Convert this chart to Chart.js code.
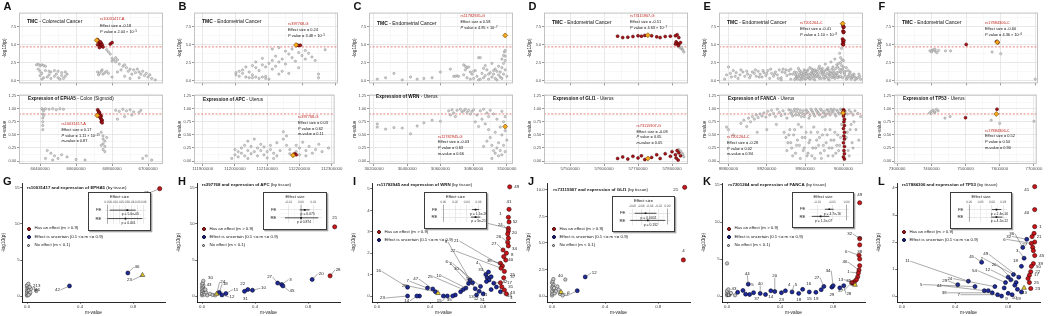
<!DOCTYPE html>
<html><head><meta charset="utf-8"><title>TMC and eQTL colocalization panels</title>
<script src="https://cdn.jsdelivr.net/npm/chart.js@4.4.1/dist/chart.umd.min.js"></script>
<style>
html,body{margin:0;padding:0;background:#fff;}
#root{position:relative;width:1050px;height:316px;overflow:hidden;background:#fff;font-family:"Liberation Sans",Arial,Helvetica,sans-serif;}
#root canvas{position:absolute;}
.t{position:absolute;white-space:nowrap;line-height:1;color:#111;}
.t sup{font-size:72%;line-height:0;vertical-align:0.45em;}
.box{position:absolute;background:#fff;border:1.3px solid #3c3c3c;box-shadow:1.3px 1.3px 0 #a3a3a3;box-sizing:border-box;}
.dot{position:absolute;width:4px;height:4px;border-radius:50%;box-sizing:border-box;border:0.6px solid #222;}
</style></head>
<body><div id="root"></div>
<script>
// ================= DATA =================
// --- x axes of the top row (positions in Mb; tick labels in bp) ---
const aXRange=[66.283,67.083], aXTicks=[66.4,66.6,66.8,67.0], aXMinor=[66.3,66.5,66.7,66.9], aXLabels=['66400000','66600000','66800000','67000000'];
const bXRange=[111.873,112.309], bXTicks=[111.9,112.0,112.1,112.2,112.3], bXMinor=[111.95,112.05,112.15,112.25], bXLabels=['111900000','112000000','112100000','112200000','112300000'];
const cXRange=[30.170,31.037], cXTicks=[30.2,30.4,30.6,30.8,31.0], cXMinor=[30.3,30.5,30.7,30.9], cXLabels=['30200000','30400000','30600000','30800000','31000000'];
const dXRange=[57.4235,57.847], dXTicks=[57.5,57.6,57.7,57.8], dXMinor=[57.45,57.55,57.65,57.75], dXLabels=['57500000','57600000','57700000','57800000'];
const eXRange=[88.701,90.204], eXTicks=[88.8,89.2,89.6,90.0], eXMinor=[89.0,89.4,89.8], eXLabels=['88800000','89200000','89600000','90000000'];
const fXRange=[7.291,7.708], fXTicks=[7.3,7.4,7.5,7.6,7.7], fXMinor=[7.35,7.45,7.55,7.65], fXLabels=['7300000','7400000','7500000','7600000','7700000'];

const topYRange=[-0.39,9.48], topYTicks=[0,2.5,5,7.5], topYMinor=[1.25,3.75,6.25,8.75], topYLabels=['0.0','2.5','5.0','7.5'], topThreshold=4.7;
const lowYRange=[-0.056,1.27], lowYTicks=[0,0.25,0.5,0.75,1,1.25], lowYMinor=[0.125,0.375,0.625,0.875,1.125], lowYLabels=['0.00','0.25','0.50','0.75','1.00','1.25'], lowThreshold=0.9;

// --- Panel A ---
const aTopGrey=[[66.38,2.2],[66.39,2.3],[66.40,2.1],[66.41,2.2],[66.42,2.1],[66.43,2.0],[66.39,1.6],[66.40,1.3],[66.41,1.0],[66.43,1.4],[66.45,1.3],[66.46,1.2],[66.48,1.4],[66.50,1.3],[66.52,1.1],[66.54,1.2],[66.55,0.9],[66.40,0.7],[66.42,0.4],[66.44,0.5],[66.46,0.3],[66.48,0.6],[66.50,0.4],[66.52,0.7],[66.53,0.3],[66.54,0.6],[66.41,0.2],[66.45,0.8],[66.49,0.9],[66.51,0.2],
[66.72,1.2],[66.73,1.0],[66.74,1.3],[66.75,0.9],[66.76,1.1],[66.77,1.3],[66.78,1.0],[66.725,0.8],[66.745,1.5],[66.77,4.3],[66.78,4.0],[66.79,3.7],[66.80,3.1],[66.81,2.9],[66.82,3.2],[66.80,2.7],[66.83,2.9],[66.82,2.6],[66.84,2.3],[66.86,2.0],[66.87,2.2],[66.88,1.8],[66.90,1.6],[66.92,1.5],[66.93,1.1],[66.95,1.2],[66.96,0.9],[66.98,0.7],[67.00,0.5],[67.02,0.3],[67.04,0.1],[66.89,1.3],[66.91,0.9],[66.94,1.6],[66.97,1.3],[66.99,1.0],[66.85,1.5],[66.83,1.2],[66.87,0.6],[66.90,0.3],[66.95,0.4],[67.01,0.8],[66.80,0.5]];
const aTopRed=[[66.72,5.7],[66.725,5.5],[66.73,5.3],[66.73,5.1],[66.735,4.9],[66.74,5.2],[66.74,4.8],[66.745,5.0],[66.75,4.7],[66.72,5.0],[66.73,4.6],[66.735,5.4],[66.79,5.1],[66.80,5.3]];
const aTopLead=[[66.715,5.62]];
const aLowGrey=[[66.41,1.0],[66.415,0.98],[66.42,0.96],[66.43,1.0],[66.45,0.99],[66.47,1.0],[66.49,0.98],[66.51,1.0],[66.53,0.99],[66.415,0.9],[66.415,0.82],[66.415,0.75],[66.415,0.68],[66.415,0.6],[66.42,0.87],[66.44,0.2],[66.46,0.15],[66.48,0.1],[66.50,0.05],[66.52,0.12],[66.55,0.08],[66.43,0.05],[66.47,0.02],
[66.74,0.55],[66.75,0.48],[66.75,0.42],[66.76,0.38],[66.75,0.33],[66.76,0.28],[66.75,0.22],[66.76,0.18],[66.74,0.3],[66.77,0.45],[66.82,0.97],[66.84,0.95],[66.86,0.99],[66.88,0.96],[66.90,0.98],[66.92,0.94],[66.87,0.85],[66.83,0.8],[66.91,0.88],[66.95,0.93],[66.96,0.97],[66.97,0.05],[66.99,0.1],[67.02,0.02],[66.60,0.03],[66.65,0.02]];
const aLowRed=[[66.72,0.98],[66.725,0.95],[66.73,0.93],[66.73,0.9],[66.735,0.88],[66.74,0.86],[66.735,0.83],[66.74,0.8],[66.745,0.78],[66.74,0.75],[66.73,0.85],[66.725,0.91],[66.745,0.73]];
const aLowLead=[[66.718,0.87]];

// --- Panel B ---
const bTopGrey=[[112.00,1.1],[112.00,0.8],[112.01,1.3],[112.01,0.6],[112.02,1.0],[112.02,1.5],[112.03,0.5],[112.03,1.9],[112.04,0.4],[112.04,1.2],[112.05,2.1],[112.05,0.4],[112.06,2.6],[112.06,1.8],[112.07,0.3],[112.07,1.4],[112.08,2.2],[112.08,3.1],[112.09,0.3],[112.09,1.9],[112.10,2.4],[112.10,0.2],[112.11,2.8],[112.11,1.6],[112.12,2.0],[112.12,3.4],[112.13,2.6],[112.13,0.9],[112.14,1.3],[112.14,3.0],[112.15,2.3],[112.15,4.1],[112.16,3.7],[112.16,1.0],[112.17,3.2],[112.17,4.4],[112.18,2.7],[112.19,3.9],[112.19,1.8],[112.20,3.5],[112.21,4.2],[112.21,3.0],[112.22,3.8],[112.23,3.3],[112.24,2.8],[112.25,0.9],[112.25,0.4],[112.27,4.3],[112.13,4.6],[112.11,4.4],[112.09,0.6],[112.05,0.8],[112.06,0.5],[112.08,0.5]];
const bTopRed=[[112.185,4.95],[112.19,4.9],[112.195,4.93]];
const bTopLead=[[112.182,4.96]];
const bLowGrey=[[112.00,0.22],[112.00,0.12],[112.01,0.18],[112.01,0.08],[112.02,0.25],[112.02,0.15],[112.03,0.3],[112.03,0.1],[112.04,0.2],[112.04,0.05],[112.05,0.28],[112.05,0.14],[112.06,0.42],[112.06,0.18],[112.07,0.1],[112.07,0.25],[112.08,0.2],[112.08,0.32],[112.09,0.12],[112.09,0.27],[112.10,0.18],[112.10,0.06],[112.11,0.22],[112.11,0.3],[112.12,0.15],[112.13,0.1],[112.13,0.35],[112.14,0.2],[112.15,0.56],[112.15,0.42],[112.16,0.48],[112.16,0.3],[112.17,0.14],[112.17,0.22],[112.18,0.1],[112.19,0.18],[112.19,0.3],[112.20,0.12],[112.20,0.25],[112.21,0.36],[112.22,0.2],[112.22,0.1],[112.23,0.28],[112.24,0.15],[112.25,0.22],[112.26,0.32],[112.27,0.18],[112.29,0.25],[111.99,0.05],[112.04,0.38],[112.12,0.05]];
const bLowRed=[[112.185,0.14],[112.19,0.12]];
const bLowLead=[[112.18,0.11]];

// --- Panel C ---
const cTopGrey=[[30.22,0.2],[30.27,0.4],[30.32,1.0],[30.37,0.1],[30.42,0.5],[30.46,0.2],[30.50,0.3],[30.55,0.4],[30.60,1.2],[30.66,1.6],[30.68,0.6],[30.69,0.6],[30.70,0.65],[30.71,0.6],
[30.74,2.2],[30.75,2.0],[30.76,1.8],[30.75,1.5],[30.77,1.9],[30.78,1.2],[30.74,0.8],[30.76,0.4],[30.78,0.2],[30.79,0.9],[30.80,0.3],[30.81,1.4],[30.82,0.6],[30.83,3.2],[30.84,3.2],[30.83,0.1],[30.85,1.0],[30.86,0.4],[30.87,2.1],[30.87,0.7],[30.88,1.5],[30.89,0.2],[30.90,1.1],[30.91,2.4],[30.91,0.5],[30.92,0.9],[30.93,1.6],[30.93,0.3],[30.94,1.3],[30.95,0.8],[30.95,2.0],[30.96,0.5],[30.96,1.2],[30.97,3.0],[30.97,1.8],[30.98,3.5],[30.98,2.4],[30.98,0.9],[30.985,4.0],[30.99,4.2],[30.99,3.4],[30.99,2.8],[30.99,1.5],[31.00,0.6],[30.89,0.9],[30.86,1.7],[30.80,1.3],[30.84,0.2],[30.92,1.4],[30.94,0.1],[30.97,0.3]];
const cTopRed=[];
const cTopLead=[[30.99,6.3]];
const cLowGrey=[[30.22,0.71],[30.22,0.65],[30.27,0.61],[30.32,0.64],[30.37,0.63],[30.42,0.52],[30.46,0.67],[30.50,0.73],[30.55,0.78],[30.60,0.76],[30.65,0.96],[30.67,0.98],[30.68,0.92],[30.70,0.97],[30.72,0.99],[30.73,0.94],[30.74,0.96],[30.75,0.99],[30.76,0.93],[30.77,0.97],[30.78,0.9],[30.79,0.95],[30.80,0.98],[30.66,0.88],[30.69,0.85],[30.81,0.75],[30.82,0.88],[30.83,0.66],[30.84,0.96],[30.85,0.8],[30.86,0.99],[30.87,0.71],[30.88,0.92],[30.89,0.6],[30.89,0.85],[30.90,0.97],[30.90,0.45],[30.91,0.3],[30.92,0.2],[30.92,0.9],[30.93,0.15],[30.93,0.55],[30.94,0.25],[30.94,0.8],[30.95,0.1],[30.95,0.35],[30.96,0.65],[30.96,0.2],[30.97,0.95],[30.97,0.5],[30.97,0.12],[30.98,0.75],[30.98,0.3],[30.99,0.85],[30.99,0.58],[31.00,0.4],[30.99,0.18],[30.91,0.05],[30.88,0.38],[30.86,0.28]];
const cLowRed=[];
const cLowLead=[[30.99,0.66]];

// --- Panel D ---
const dTopGrey=[[57.82,4.7],[57.825,4.5],[57.83,4.4],[57.832,4.2],[57.828,4.6],[57.835,4.0]];
const dTopRed=[[57.64,6.2],[57.655,6.0],[57.67,6.05],[57.685,6.15],[57.70,6.25],[57.71,6.2],[57.72,6.3],[57.74,6.25],[57.755,6.1],[57.765,6.0],[57.78,6.15],[57.795,6.2],[57.81,6.25],[57.815,6.4],[57.82,6.0],[57.812,5.4],[57.816,5.2],[57.82,5.0],[57.81,5.1],[57.825,5.3],[57.818,4.9]];
const dTopLead=[[57.729,6.33]];
const dLowGrey=[[57.82,0.22],[57.825,0.19],[57.83,0.15],[57.832,0.12],[57.835,0.08]];
const dLowRed=[[57.64,0.05],[57.655,0.08],[57.67,0.04],[57.685,0.09],[57.70,0.06],[57.71,0.1],[57.72,0.03],[57.74,0.07],[57.755,0.12],[57.765,0.05],[57.78,0.14],[57.795,0.09],[57.80,0.18],[57.81,0.12],[57.815,0.2],[57.82,0.16],[57.812,0.06],[57.825,0.1],[57.818,0.02]];
const dLowLead=[[57.729,0.05]];

// --- Panel E ---
const eTopGrey=[[88.76,0.2],[88.80,1.9],[88.83,0.5],[88.85,1.4],[88.88,1.1],[88.90,0.3],[88.92,0.8],[88.95,1.2],[88.97,0.6],[89.00,0.9],[89.02,0.4],[89.05,1.2],[89.07,1.0],[89.09,0.6],[89.11,1.3],[89.13,0.9],[89.15,0.5],[89.17,1.1],[89.19,0.7],[89.21,1.4],[89.23,0.3],[89.25,1.0],[89.27,0.6],[89.29,1.2],[89.31,0.8],[89.33,1.5],[89.35,0.4],[89.37,1.6],[89.39,1.1],[89.41,0.7],[89.43,1.4],[89.45,1.6],[89.47,0.9],[89.49,1.2],[89.51,0.5],[89.53,1.7],[89.55,1.3],[89.57,0.8],[89.59,1.5],[89.61,1.0],[89.63,0.4],[89.65,1.8],[89.67,1.2],[89.69,0.6],[89.71,1.4],[89.73,0.9],[89.75,2.0],[89.77,1.5],[89.79,0.7],[89.81,2.3],[89.83,1.6],[89.85,0.8],[89.87,2.6],[89.89,1.9],[89.91,3.0],[89.93,2.2],[89.95,1.2],[89.96,3.8],[89.97,2.5],[89.98,4.5],[89.99,1.6],[90.00,2.8],[90.01,0.9],[90.03,1.8],[90.05,0.6],[90.07,1.2],[90.09,0.4],[90.11,0.9],[90.14,0.3],[90.17,0.6],
[89.60,0.2],[89.70,0.1],[89.80,0.3],[89.90,0.5],[89.85,0.1],[89.75,0.3],[89.65,0.2],[89.55,0.1],[89.45,0.2],[89.35,0.1],[89.92,0.9],[89.94,0.4],[89.88,1.1],[89.78,1.2],[89.68,0.9],
[89.50,0.3],[89.52,0.6],[89.54,0.9],[89.56,0.4],[89.58,1.1],[89.60,0.7],[89.62,1.3],[89.64,0.5],[89.66,1.0],[89.68,1.5],[89.70,0.8],[89.72,1.2],[89.74,0.5],[89.76,1.6],[89.78,0.9],[89.80,1.3],[89.82,0.6],[89.84,1.8],[89.86,1.1],[89.88,0.4],[89.90,1.4],[89.92,0.7],[89.94,1.9],[89.96,0.5],[89.98,2.1],[90.02,1.3],[90.04,0.3],[90.06,0.9],[90.08,0.2],[90.10,0.6],[90.12,0.1],[90.15,0.4],[90.18,0.2],[89.97,3.2],[89.985,2.9],[89.975,1.1],
[89.49,0.15],[89.50,0.8],[89.51,1.1],[89.52,0.2],[89.53,0.5],[89.54,1.4],[89.55,0.6],[89.56,1.0],[89.57,0.2],[89.58,0.5],[89.59,0.9],[89.60,1.3],[89.61,0.3],[89.62,0.8],[89.63,1.5],[89.64,0.9],[89.65,0.3],[89.66,0.6],[89.67,1.6],[89.68,0.3],[89.69,1.1],[89.70,1.5],[89.71,0.5],[89.72,0.8],[89.73,1.3],[89.74,1.7],[89.75,0.6],[89.76,1.1],[89.77,0.3],[89.78,1.7],[89.79,1.2],[89.80,0.9],[89.81,0.4],[89.82,1.5],[89.83,1.0],[89.84,0.3],[89.85,1.4],[89.86,0.6],[89.87,1.0],[89.88,1.6],[89.89,0.7],[89.90,1.0],[89.91,0.3],[89.92,1.7],[89.93,1.1],[89.94,0.7],[89.95,2.4],[89.96,1.6],[89.97,0.6],[89.98,1.4],[89.99,0.4],[90.00,1.9],[90.01,1.2],[90.02,0.6],[90.03,0.2],[90.05,1.4],[90.07,0.5],[90.09,0.8],[90.12,0.5],[90.16,0.9],
[88.78,0.8],[88.82,1.0],[88.87,0.6],[88.93,1.5],[88.99,1.3],[89.03,0.7],[89.08,1.5],[89.12,0.5],[89.16,1.4],[89.20,1.0],[89.24,1.6],[89.28,0.9],[89.32,0.3],[89.36,1.2],[89.40,1.5],[89.44,0.9]];
const eTopRed=[[89.99,7.9],[89.995,7.6],[90.00,7.4],[90.005,7.5],[89.995,6.9],[90.0,6.7],[90.005,6.8],[89.99,5.8],[89.995,5.5],[90.0,5.3],[90.005,5.6],[89.99,5.1],[90.0,5.0]];
const eTopLead=[[89.992,7.96]];
const eLowGrey=[[88.93,0.72],[88.96,0.78],[88.99,0.66],[89.01,0.82],[89.03,0.75],[89.05,0.85],[89.07,0.8],[89.09,0.88],[89.11,0.83],[89.13,0.9],[89.15,0.86],[89.17,0.92],[89.19,0.84],[89.21,0.95],[89.23,0.88],[89.25,0.97],[89.27,0.91],[89.29,0.85],[89.31,0.99],[89.33,0.93],[89.35,0.87],[89.37,0.96],[89.39,0.9],[89.41,0.82],[89.43,0.98],[89.45,0.92],[89.47,0.86],[89.49,0.99],[89.51,0.94],[89.53,0.88],[89.55,0.97],[89.57,0.91],[89.59,0.85],[89.61,0.98],[89.63,0.93],[89.65,0.87],[89.67,0.96],[89.69,0.9],[89.71,0.99],[89.73,0.94],[89.75,0.88],[89.77,0.97],[89.79,0.92],[89.81,0.86],[89.83,0.98],[89.85,0.93],[89.87,0.99],[89.89,0.95],[89.91,0.9],[89.93,0.97],[89.95,0.92],[89.97,0.99],[90.02,0.95],[90.04,0.9],[90.06,0.97],[90.08,0.93],[90.10,0.88],[90.12,0.96],[90.15,0.91],[90.18,0.85],
[89.38,0.55],[89.40,0.45],[89.42,0.35],[89.44,0.6],[89.46,0.25],[89.48,0.5],[89.50,0.15],[89.52,0.4],[89.54,0.3],[89.56,0.65],[89.58,0.2],[89.60,0.45],[89.62,0.1],[89.64,0.35],[89.66,0.55],[89.68,0.25],[89.70,0.05],[89.72,0.4],[89.74,0.3],[89.76,0.15],[89.78,0.5],[89.80,0.2],[89.82,0.35],[89.84,0.1],[89.86,0.6],[89.88,0.25],[89.90,0.4],[89.92,0.15],[89.94,0.5],[89.96,0.3],[89.98,0.7],[90.03,0.45],[90.05,0.2],[90.07,0.6],[90.09,0.35],[90.11,0.75],[89.30,0.7],[89.20,0.6],[89.10,0.55],[88.78,0.65],[88.80,0.6],[88.85,0.5],
[89.45,0.97],[89.46,0.9],[89.48,0.95],[89.50,0.88],[89.52,0.99],[89.54,0.92],[89.56,0.85],[89.58,0.96],[89.60,0.9],[89.62,0.95],[89.64,0.82],[89.66,0.99],[89.68,0.93],[89.70,0.86],[89.72,0.96],[89.74,0.91],[89.76,0.99],[89.78,0.84],[89.80,0.95],[89.82,0.9],[89.84,0.97],[89.86,0.88],[89.88,0.94],[89.90,0.99],[89.92,0.86],[89.94,0.95],[89.96,0.9],[89.98,0.97],
[89.41,0.2],[89.43,0.5],[89.45,0.35],[89.47,0.1],[89.49,0.6],[89.51,0.3],[89.53,0.7],[89.55,0.05],[89.57,0.45],[89.59,0.25],[89.61,0.55],[89.63,0.15],[89.65,0.4],[89.67,0.1],[89.69,0.65],[89.71,0.25],[89.73,0.55],[89.75,0.45],[89.77,0.05],[89.79,0.3],[89.81,0.6],[89.83,0.5],[89.85,0.25],[89.87,0.4],[89.89,0.1],[89.91,0.55],[89.93,0.3],[89.95,0.2],[89.97,0.45],[90.04,0.55],[90.06,0.1],[90.08,0.7],[90.10,0.25],[90.13,0.6],[90.16,0.4]];
const eLowRed=[[90.0,0.98],[90.005,0.96],[89.995,0.93],[90.005,0.9],[90.0,0.86],[90.01,0.8],[90.005,0.75],[90.01,0.68],[90.0,0.62],[90.01,0.55],[90.005,0.48],[90.01,0.42],[90.0,0.35],[90.01,0.28],[90.005,0.2],[90.01,0.14],[90.0,0.08],[90.01,0.04]];
const eLowLead=[[89.995,0.92]];

// --- Panel F ---
const fTopGrey=[[7.40,4.2],[7.405,4.3],[7.41,4.1],[7.40,4.0],[7.415,3.9],[7.41,4.35],[7.42,4.2],[7.395,4.15],[7.44,4.15],[7.455,4.15],[7.575,4.0],[7.6,3.75],[7.70,0.2]];
const fTopRed=[[7.5,5.05],[7.588,5.45],[7.592,5.3]];
const fTopLead=[[7.59,5.36]];
const fLowGrey=[[7.40,0.95],[7.405,0.97],[7.41,0.93],[7.40,0.91],[7.415,0.99],[7.41,0.94],[7.42,0.96],[7.395,0.92],[7.44,0.82],[7.455,0.85],[7.575,0.78],[7.6,0.72],[7.70,0.76]];
const fLowRed=[[7.5,0.83],[7.592,0.99]];
const fLowLead=[[7.59,0.9]];

// --- Bottom row: m-value vs -log10(p) per tissue ---
const mRange=[-0.038,1.04], mTicks=[0,0.4,0.8], mLabels=['0.0','0.4','0.8'];

const gYRange=[-0.83,15.69], gYTicks=[0,5,10,15], gYLabels=['0','5','10','15'];
const gRed=[[1.0,14.9]], gRedLbl=['35'];
const gBlue=[[0.76,3.2],[0.32,1.4]], gBlueLbl=['46','42'];
const gGrey=[[0,0.05],[0,0.2],[0.005,0.35],[0,0.5],[0.01,0.62],[0,0.75],[0.005,0.9],[0.01,1.05],[0,1.2],[0.005,1.35],[0,1.5],[0.01,1.7],[0.02,0.3],[0.015,0.8],[0.025,0.5],[0.03,1.0],[0.07,0.7],[0.012,0.15],[0.02,1.25]];
const gGreyLbl=['','','','','7','','','2','','','','','9','','26','13','',''];
const gLead=[[0.87,2.9]], gLeadLbl=['23'];

const hYRange=[-0.83,15.69], hYTicks=[0,5,10,15], hYLabels=['0','5','10','15'];
const hRed=[[1.0,9.6],[0.965,2.8]], hRedLbl=['21','28'];
const hBlue=[[0.83,2.3],[0.57,1.8],[0.6,1.6],[0.61,1.4],[0.38,0.8],[0.345,0.9],[0.32,0.65],[0.18,0.35],[0.15,0.15],[0.13,0.5]];
const hBlueLbl=['20','27','3','45','10','22','31','11','12','18'];
const hGrey=[[0,0.1],[0.005,0.25],[0,0.4],[0.01,0.55],[0,0.7],[0.005,0.85],[0.01,1.0],[0,1.15],[0.005,1.3],[0.01,1.45],[0,1.6],[0.005,1.8],[0.01,2.1],[0.02,0.2],[0.03,0.5],[0.04,0.1],[0.06,0.3],[0.08,0.15],[0.1,0.1],[0.025,0.9]];
const hGreyLbl=['','','','','','','','43','','','','','30','','','','','','',''];
const hLead=[[0.11,0.3]], hLeadLbl=['24'];

const iYRange=[-0.28,5.28], iYTicks=[0,1,2,3,4,5], iYLabels=['0','1','2','3','4','5'];
const iRed=[[1.0,5.1],[0.995,4.05],[0.99,3.68],[0.995,3.46],[0.99,3.16],[0.99,3.04],[0.985,2.9],[0.99,2.7],[0.985,2.51],[0.99,2.34],[0.95,2.15],[0.975,2.0],[0.955,1.84],[0.97,1.68],[0.93,1.53],[0.945,1.4],[0.935,1.3],[0.96,1.15],[0.955,0.85],[0.93,0.62],[0.94,0.43],[0.96,0.28],[0.975,0.1]];
const iRedLbl=['49','41','1','52','44','24','','20','26','34','27','8','40','','38','21','22','25','37','17','31','43','3'];
const iBlue=[[0.82,1.0],[0.84,1.12],[0.83,0.86],[0.845,0.75],[0.825,0.68],[0.86,0.9],[0.88,0.6],[0.9,0.42],[0.93,0.2],[0.86,0.3],[0.8,0.1],[0.77,0.22],[0.74,0.34],[0.72,0.62],[0.69,0.59],[0.7,0.75],[0.67,0.37],[0.63,0.2],[0.59,0.05],[0.57,0.0],[0.53,0.0],[0.5,0.0],[0.44,0.2],[0.42,0.33],[0.38,0.37],[0.32,0.0],[0.3,0.0],[0.23,0.41],[0.23,0.0],[0.78,0.45],[0.65,0.3],[0.75,0.05]];
const iBlueLbl=['33','','','4','','','42','','45','11','12','13','5','30','6','9','10','','35','','15','','28','47','7','','14','16','23','2','25','51'];
const iGrey=[], iGreyLbl=[];
const iLead=[[0.46,0.13]], iLeadLbl=[''];

const jYRange=[-0.566,10.66], jYTicks=[0,2.5,5,7.5,10], jYLabels=['0.0','2.5','5.0','7.5','10.0'];
const jRed=[[1.0,10.25],[0.99,3.4]], jRedLbl=['21','4'];
const jBlue=[[0.25,1.8],[0.19,0.5]], jBlueLbl=['12','14'];
const jGrey=[[0,0.05],[0,0.2],[0.005,0.35],[0,0.5],[0.01,0.65],[0,0.8],[0.005,0.95],[0.01,1.1],[0,1.25],[0.005,1.4],[0.01,1.6],[0.02,0.25],[0.03,0.45],[0.05,0.6],[0.06,0.2],[0.08,0.05],[0.1,1.55],[0.04,0.9],[0.015,0.75]];
const jGreyLbl=['','','','','','','','','','','40','','','','','6','','',''];
const jLead=[[0.068,0.36]], jLeadLbl=[''];

const kYRange=[-0.81,15.27], kYTicks=[0,5,10,15], kYLabels=['0','5','10','15'];
const kRed=[[1.0,12.6],[1.0,7.75],[1.0,6.9],[0.995,5.5],[1.0,5.0],[1.0,4.1],[0.995,3.5],[0.99,3.1],[0.985,2.6],[0.975,2.2],[0.96,1.9],[0.955,1.7],[0.94,1.8]];
const kRedLbl=['49','32','31','6','38','','46','1','35','3','','13','47'];
const kBlue=[[0.08,0.5],[0.12,0.75],[0.14,0.25],[0.16,1.6],[0.17,0.2],[0.2,0.45],[0.25,0.35],[0.29,0.2],[0.33,0.7],[0.36,0.6],[0.41,0.45],[0.44,0.7],[0.49,0.55],[0.54,0.35],[0.57,0.9],[0.62,0.55],[0.67,0.5],[0.71,0.85],[0.73,1.3],[0.79,1.2],[0.8,1.4],[0.85,1.1],[0.88,1.4]];
const kBlueLbl=['12','43','','44','37','5','40','','14','20','23','4','5','18','16','15','19','','27','29','34','','28'];
const kGrey=[[0,4.4],[0,0.1],[0,0.3],[0.005,0.5],[0,0.7],[0.01,0.9],[0.02,0.2],[0.03,0.4],[0.06,0.1],[0.01,0.15]];
const kGreyLbl=['','','','','','','','','',''];
const kLead=[[0.965,1.5]], kLeadLbl=[''];

const lYRange=[-0.22,4.185], lYTicks=[0,1,2,3,4], lYLabels=['0','1','2','3','4'];
const lRed=[[1.0,4.05],[1.0,3.2],[1.0,2.57],[0.995,2.32],[0.98,2.2],[1.0,2.0],[0.975,1.95],[0.985,1.8],[0.99,1.68],[1.0,1.5],[0.99,1.2],[0.975,1.1],[0.97,0.9],[0.96,0.77],[0.95,0.65],[0.96,0.5],[0.97,0.28]];
const lRedLbl=['41','40','1','','21','','6','27','','45','39','50','22','17','','25','23'];
const lBlue=[[0.42,0.42],[0.5,0.55],[0.6,1.25],[0.55,0.35],[0.62,0.2],[0.68,0.12],[0.72,0.05],[0.75,0.0],[0.77,0.3],[0.78,0.5],[0.8,0.7],[0.82,0.6],[0.84,0.8],[0.86,0.5],[0.85,0.4],[0.88,0.7],[0.9,1.1],[0.92,1.4],[0.87,0.25],[0.8,0.1],[0.83,0.05],[0.9,0.15],[0.94,2.1],[0.91,1.8],[0.7,0.35],[0.65,0.2]];
const lBlueLbl=['29','11','45','5','44','38','7','9','','54','','12','2','20','','49','18','3','13','10','19','','32','36','24',''];
const lGrey=[], lGreyLbl=[];
const lLead=[[0.92,0.3]], lLeadLbl=[''];

// --- Inset forest plots: [estimate, lower, upper] ---
const gInsetTicks=[0,0.01,0.02,0.03,0.04,0.05,0.06], gInsetLabels=['0.00','0.01','0.02','0.03','0.04','0.05','0.06'], gInsetRange=[-0.004,0.064];
const gFE=[0.033,0.004,0.047], gRE=[0.030,0.0,0.058], gFEp='p = 5.0e-05', gREp='p = 0.041';
const hInsetTicks=[-0.01,0,0.01], hInsetLabels=['-0.01','0.00','0.01'], hInsetRange=[-0.017,0.017];
const hFE=[0.003,-0.001,0.007], hRE=[0.0,-0.013,0.014], hFEp='p = 0.075', hREp='p = 0.874';
const iInsetTicks=[0,0.02,0.04,0.06], iInsetLabels=['0.00','0.02','0.04','0.06'], iInsetRange=[-0.004,0.066];
const iFE=[0.055,0.049,0.061], iRE=[0.055,0.047,0.063], iFEp='p = 1.1e-26', iREp='p = 5e-21';
const jInsetTicks=[-0.08,-0.06,-0.04,-0.02,0], jInsetLabels=['-0.08','-0.06','-0.04','-0.02','0.00'], jInsetRange=[-0.088,0.006];
const jFE=[-0.05,-0.075,-0.025], jRE=[-0.045,-0.085,-0.005], jFEp='p = 0.0001', jREp='p = 0.132';
const kInsetTicks=[-0.1,-0.05,0], kInsetLabels=['-0.10','-0.05','0.00'], kInsetRange=[-0.13,0.008];
const kFE=[-0.06,-0.075,-0.045], kRE=[-0.09,-0.12,-0.06], kFEp='p = 4.7e-16', kREp='p = 1.2e-07';
const lInsetTicks=[0,0.03,0.06,0.09], lInsetLabels=['0.00','0.03','0.06','0.09'], lInsetRange=[-0.006,0.1];
const lFE=[0.072,0.06,0.085], lRE=[0.072,0.058,0.088], lFEp='p = 2.4e-16', lREp='p = 4.2e-12';

// ================= RENDERING =================
const FONT='"Liberation Sans", Arial, Helvetica, sans-serif';
Chart.defaults.font.family=FONT;
Chart.defaults.font.size=4.5;
const root=document.getElementById('root');
const xy=a=>a.map(p=>({x:p[0],y:p[1]}));
const isIn=(arr,v)=>arr.some(t=>Math.abs(t-v)<1e-7);

function addCanvas(x,y,w,h){const c=document.createElement('canvas');c.width=w;c.height=h;c.style.left=x+'px';c.style.top=y+'px';c.style.width=w+'px';c.style.height=h+'px';root.appendChild(c);return c;}
function txt(x,yc,html,size,extra){const d=document.createElement('div');d.className='t';d.style.left=x+'px';d.style.top=(yc-size/2)+'px';d.style.fontSize=size+'px';if(extra)d.style.cssText+=extra;d.innerHTML=html;root.appendChild(d);return d;}

const framePlugin={id:'frame',afterDraw(chart,args,opts){if(!opts||!opts.color)return;const a=chart.chartArea,ctx=chart.ctx;ctx.save();ctx.strokeStyle=opts.color;ctx.lineWidth=opts.width||1;ctx.strokeRect(a.left+0.5,a.top+0.5,a.right-a.left-1,a.bottom-a.top-1);ctx.restore();}};
const labelPlugin={id:'ptlabels',afterDatasetsDraw(chart){const ctx=chart.ctx;chart.data.datasets.forEach((ds,i)=>{if(!ds.ptLabels)return;const meta=chart.getDatasetMeta(i);meta.data.forEach((el,j)=>{const t=ds.ptLabels[j];if(!t)return;const off=(ds.ptOffsets&&ds.ptOffsets[j])||[4,-3];const lx=el.x+off[0],ly=el.y+off[1];ctx.save();if(Math.hypot(off[0],off[1])>7){ctx.strokeStyle='#444';ctx.lineWidth=0.45;ctx.beginPath();ctx.moveTo(el.x,el.y);ctx.lineTo(lx,ly);ctx.stroke();}ctx.font='4.4px '+FONT;ctx.fillStyle='#1a1a1a';ctx.textBaseline='middle';const al=off[0]<-1?'right':(off[0]>1?'left':'center');ctx.textAlign=al;ctx.fillText(t,lx+(al==='right'?-0.6:(al==='left'?0.6:0)),ly+(al==='center'?(off[1]<0?-1.8:1.8):0));ctx.restore();});});}};
const notePlugin={id:'notes',afterDatasetsDraw(chart){const ctx=chart.ctx;chart.data.datasets.forEach((ds,i)=>{if(!ds.notes)return;const meta=chart.getDatasetMeta(i);meta.data.forEach((el,j)=>{const t=ds.notes[j];if(!t)return;ctx.save();ctx.font='3.4px '+FONT;ctx.fillStyle='#222';ctx.textAlign='center';ctx.textBaseline='middle';ctx.fillText(t,el.x+3,el.y+4.3);ctx.restore();});});}};

function lightAxis(o){
  const all=[...o.major,...(o.minor||[])].sort((a,b)=>a-b);
  return {type:'linear',min:o.range[0],max:o.range[1],position:o.position,reverse:!!o.reverse,
    afterBuildTicks:s=>{s.ticks=all.map(v=>({value:v}));},
    afterFit:s=>{if(o.w!=null)s.width=o.w;if(o.h!=null)s.height=o.h;},
    ticks:{display:o.show!==false,autoSkip:false,maxRotation:0,minRotation:0,padding:o.pad??0.8,color:o.tickColor||'#4d4d4d',font:{size:o.fs||4.2},
      callback:v=>{const i=o.major.findIndex(t=>Math.abs(t-v)<1e-7);return i>=0?o.labels[i]:'';}},
    grid:{display:true,drawOnChartArea:true,drawTicks:o.ticksOn!==false,tickLength:o.tl??2,
      color:c=>c.tick&&isIn(o.major,c.tick.value)?'#e2e2e2':'#f1f1f1',
      lineWidth:c=>c.tick&&isIn(o.major,c.tick.value)?0.8:0.5,
      tickColor:c=>c.tick&&isIn(o.major,c.tick.value)?'#6a6a6a':'rgba(0,0,0,0)',tickWidth:0.7},
    border:{display:false},
    title:o.title?{display:true,text:o.title,color:'#222',font:{size:4.8},padding:{top:1.5,bottom:0.5}}:{display:false}};
}
function classicAxis(o){
  return {type:'linear',min:o.range[0],max:o.range[1],
    afterBuildTicks:s=>{s.ticks=o.major.map(v=>({value:v}));},
    afterFit:s=>{if(o.w!=null)s.width=o.w;if(o.h!=null)s.height=o.h;},
    ticks:{autoSkip:false,maxRotation:0,minRotation:0,padding:0.6,color:'#3a3a3a',font:{size:4.3},
      callback:v=>{const i=o.major.findIndex(t=>Math.abs(t-v)<1e-7);return i>=0?o.labels[i]:'';}},
    grid:{display:true,drawOnChartArea:false,drawTicks:true,tickLength:1.8,tickColor:'#333',tickWidth:0.7},
    border:{display:true,color:'#111',width:0.9},
    title:{display:true,text:o.title,color:'#222',font:{size:4.8},padding:{top:0.5,bottom:0.5}}};
}

function manhattan(left,top,h,padTop,xh,showX,xa,ya,grey,red,lead,thr){
  const W=168;
  const c=addCanvas(left,top,W,h);
  new Chart(c,{type:'scatter',
    data:{datasets:[
      {data:xy(lead),pointStyle:'rectRot',pointRadius:2.5,backgroundColor:'#f7a81b',borderColor:'#6b4300',borderWidth:0.6,order:1},
      {data:xy(red),pointRadius:1.5,backgroundColor:'#a8151b',borderColor:'#4a0000',borderWidth:0.5,order:2},
      {data:xy(grey),pointRadius:1.15,backgroundColor:'#d4d4d4',borderColor:'#8a8a8a',borderWidth:0.5,order:3},
      {data:[{x:xa.range[0],y:thr},{x:xa.range[1],y:thr}],showLine:true,pointRadius:0,borderColor:'#e0625c',borderWidth:0.8,borderDash:[2,1.6],order:4}]},
    options:{responsive:false,animation:false,devicePixelRatio:1,events:[],
      layout:{padding:{left:0,right:W-163,top:padTop,bottom:0}},
      plugins:{legend:{display:false},tooltip:{enabled:false},frame:{color:'#c2c2c2',width:1}},
      scales:{x:lightAxis({...xa,h:xh,show:showX,fs:4.3,pad:0.6}),y:lightAxis({...ya,w:19,fs:4.0})}},
    plugins:[framePlugin]});
}

function tissuePanel(left,ya,red,redLbl,redOff,blue,blueLbl,blueOff,grey,greyLbl,lead,leadLbl,leadOff){
  const W=170,H=138;
  const c=addCanvas(left,178,W,H);
  new Chart(c,{type:'scatter',
    data:{datasets:[
      {data:xy(lead),ptLabels:leadLbl,ptOffsets:leadOff,pointStyle:'triangle',pointRadius:2.7,backgroundColor:'#f2d31f',borderColor:'#333',borderWidth:0.6,order:1},
      {data:xy(red),ptLabels:redLbl,ptOffsets:redOff,pointRadius:2.1,backgroundColor:'#c8161a',borderColor:'#3a0000',borderWidth:0.6,order:2},
      {data:xy(blue),ptLabels:blueLbl,ptOffsets:blueOff,pointRadius:2,backgroundColor:'#1c2a9e',borderColor:'#000020',borderWidth:0.6,order:3},
      {data:xy(grey),ptLabels:greyLbl,pointRadius:1.7,backgroundColor:'#cccccc',borderColor:'#333',borderWidth:0.5,order:4}]},
    options:{responsive:false,animation:false,devicePixelRatio:1,events:[],
      layout:{padding:{left:0,right:W-165,top:5,bottom:0}},
      plugins:{legend:{display:false},tooltip:{enabled:false}},
      scales:{x:classicAxis({range:mRange,major:mTicks,labels:mLabels,h:14,title:'m-value'}),
              y:classicAxis({...ya,w:22,title:'-log10(p)'})}},
    plugins:[labelPlugin]});
}

function inset(bx,by,bw,bh,range,ticks,labels,fe,re,feP,reP){
  const box=document.createElement('div');box.className='box';box.style.left=bx+'px';box.style.top=by+'px';box.style.width=bw+'px';box.style.height=bh+'px';root.appendChild(box);
  const cw=bw-2,ch=bh-2;
  const c=addCanvas(bx+1,by+1,cw,ch);c.style.zIndex=2;
  txt(bx,by+5,'Effect size',4.1,`width:${bw}px;text-align:center;z-index:3;`);
  const minor=[];for(let i=0;i<ticks.length-1;i++)minor.push((ticks[i]+ticks[i+1])/2);
  new Chart(c,{type:'scatter',
    data:{datasets:[
      {data:[{x:fe[0],y:1},{x:re[0],y:2}],notes:[feP,reP],pointStyle:'rect',pointRadius:1.2,backgroundColor:'#111',borderColor:'#111',borderWidth:0,order:1},
      {data:[{x:fe[1],y:1},{x:fe[2],y:1}],showLine:true,pointRadius:0,borderColor:'#222',borderWidth:0.8,order:2},
      {data:[{x:re[1],y:2},{x:re[2],y:2}],showLine:true,pointRadius:0,borderColor:'#222',borderWidth:0.8,order:3},
      {data:[{x:0,y:0.33},{x:0,y:2.63}],showLine:true,pointRadius:0,borderColor:'#222',borderWidth:0.6,borderDash:[1,1],order:4}]},
    options:{responsive:false,animation:false,devicePixelRatio:1,events:[],
      layout:{padding:{left:0,right:3,top:7.5,bottom:1.5}},
      plugins:{legend:{display:false},tooltip:{enabled:false}},
      scales:{x:lightAxis({range,major:ticks,minor,labels,position:'top',h:4,fs:3.0,pad:0.2,ticksOn:false,tl:0}),
              y:lightAxis({range:[0.33,2.63],major:[1,2],minor:[1.5],labels:['FE','RE'],reverse:true,w:16,fs:4.4,pad:3.5,ticksOn:false,tl:0,tickColor:'#222'})}},
    plugins:[notePlugin]});
}

function legend(left,ycs,three){
  const items=[['#c8161a','#3a0000','Has an effect (m &gt; 0.9)'],['#1c2a9e','#000020','Effect is uncertain (0.1 &lt;= m &lt;= 0.9)'],['#cccccc','#333','No effect (m &lt; 0.1)']];
  const n=three?3:2;
  for(let i=0;i<n;i++){
    const d=document.createElement('div');d.className='dot';d.style.left=(left+26.5)+'px';d.style.top=(ycs[i]-2)+'px';d.style.background=items[i][0];d.style.borderColor=items[i][1];
    if(i===2){d.style.width='3.4px';d.style.height='3.4px';d.style.left=(left+26.8)+'px';d.style.top=(ycs[i]-1.7)+'px';}
    root.appendChild(d);
    txt(left+34.5,ycs[i],items[i][2],4.3);
  }
}

// ---- panel texts/layout table (built from the arrays above) ----
const sup=(m,e)=>`${m} × 10<sup>${e}</sup>`;
const columns=[
 {L:'A',g:'G',cancer:'Colorectal Cancer',gene:'EPHA5',tissue:'Colon (Sigmoid)',snp:'rs10031417-A',snpB:'rs10031417',
  topES:'-0.18',topP:sup('2.04','−5'),lowES:'0.17',lowP:sup('1.11','−15'),m:'0.87',
  xa:{range:aXRange,major:aXTicks,minor:aXMinor,labels:aXLabels},
  top:[aTopGrey,aTopRed,aTopLead],low:[aLowGrey,aLowRed,aLowLead],
  tt:21.7,ts:[100,19.3],lt:99,ls:[61.5,124.3]},
 {L:'B',g:'H',cancer:'Endometrial Cancer',gene:'APC',tissue:'Uterus',snp:'rs397768-G',snpB:'rs397768',
  topES:'0.24',topP:sup('3.48','−5'),lowES:'0.03',lowP:'0.62',m:'0.11',
  xa:{range:bXRange,major:bXTicks,minor:bXMinor,labels:bXLabels},
  top:[bTopGrey,bTopRed,bTopLead],low:[bLowGrey,bLowRed,bLowLead],
  tt:21.7,ts:[113,24],lt:100,ls:[123,117.3]},
 {L:'C',g:'I',cancer:'Endometrial Cancer',gene:'WRN',tissue:'Uterus',snp:'rs11782945-G',snpB:'rs11782945',
  topES:'0.58',topP:sup('4.95','−7'),lowES:'-0.03',lowP:'0.63',m:'0.66',
  xa:{range:cXRange,major:cXTicks,minor:cXMinor,labels:cXLabels},
  top:[cTopGrey,cTopRed,cTopLead],low:[cLowGrey,cLowRed,cLowLead],
  tt:23.3,ts:[110.5,15.7],lt:97.5,ls:[88,136.7]},
 {L:'D',g:'J',cancer:'Endometrial Cancer',gene:'GLI1',tissue:'Uterus',snp:'rs73115907-G',snpB:'rs73115907',
  topES:'-0.51',topP:sup('4.63','−7'),lowES:'-0.08',lowP:'0.65',m:'0.05',
  xa:{range:dXRange,major:dXTicks,minor:dXMinor,labels:dXLabels},
  top:[dTopGrey,dTopRed,dTopLead],low:[dLowGrey,dLowRed,dLowLead],
  tt:22.7,ts:[105,15.7],lt:99,ls:[111.5,126]},
 {L:'E',g:'K',cancer:'Endometrial Cancer',gene:'FANCA',tissue:'Uterus',snp:'rs7201264-C',snpB:'rs7201264',
  topES:'-0.41',topP:sup('1.10','−8'),lowES:'-0.28',lowP:'0.02',m:'0.94',
  xa:{range:eXRange,major:eXTicks,minor:eXMinor,labels:eXLabels},
  top:[eTopGrey,eTopRed,eTopLead],low:[eLowGrey,eLowRed,eLowLead],
  tt:22.7,ts:[100,22.7],lt:99,ls:[27,137.3]},
 {L:'F',g:'L',cancer:'Endometrial Cancer',gene:'TP53',tissue:'Uterus',snp:'rs17884306-C',snpB:'rs17884306',
  topES:'-0.60',topP:sup('4.36','−6'),lowES:'0.52',lowP:'0.54',m:'0.90',
  xa:{range:fXRange,major:fXTicks,minor:fXMinor,labels:fXLabels},
  top:[fTopGrey,fTopRed,fTopLead],low:[fLowGrey,fLowRed,fLowLead],
  tt:22.7,ts:[110,22.7],lt:99,ls:[110,130.7]}
];

const topYA={range:topYRange,major:topYTicks,minor:topYMinor,labels:topYLabels,title:'-log10(p)'};
const lowYA={range:lowYRange,major:lowYTicks,minor:lowYMinor,labels:lowYLabels,title:'m-value'};

columns.forEach((col,k)=>{
  const L=k*175;
  manhattan(L,8,80,2,3,false,col.xa,topYA,col.top[0],col.top[1],col.top[2],topThreshold);
  manhattan(L,90,83,3,9,true,col.xa,lowYA,col.low[0],col.low[1],col.low[2],lowThreshold);
  txt(L+3.5,6.5,'<b>'+col.L+'</b>',11);
  txt(L+27,col.tt,'<b>TMC</b> - '+col.cancer,5);
  txt(col.ts[0]+L,col.ts[1],col.snp,3.9,'color:#c0281e;');
  txt(col.ts[0]+L,col.ts[1]+6.2,'Effect size = '+col.topES,3.9);
  txt(col.ts[0]+L,col.ts[1]+12.4,'<i>P</i> value = '+col.topP,3.9);
  txt(L+(k===2?26:28),col.lt,'<b>Expression of '+col.gene+'</b> - '+col.tissue,4.7);
  txt(col.ls[0]+L,col.ls[1],col.snp,3.9,'color:#c0281e;');
  txt(col.ls[0]+L,col.ls[1]+5.7,'Effect size = '+col.lowES,3.9);
  txt(col.ls[0]+L,col.ls[1]+11.4,'<i>P</i> value = '+col.lowP,3.9);
  txt(col.ls[0]+L,col.ls[1]+17.1,'<i>m</i>-value = '+col.m,3.9);
  txt(L+3,181.5,'<b>'+col.g+'</b>',11);
});

// ---- bottom row ----
tissuePanel(0,{range:gYRange,major:gYTicks,labels:gYLabels},gRed,gRedLbl,[[-10,4]],gBlue,gBlueLbl,[[6,-6],[-9,4]],gGrey,gGreyLbl,gLead,gLeadLbl,[[-10,5]]);
tissuePanel(175,{range:hYRange,major:hYTicks,labels:hYLabels},hRed,hRedLbl,[[0,-7],[5,-6]],hBlue,hBlueLbl,[[6,-6],[-5,-6],[7,-5],[6,5],[8,-2],[-2,-6],[1,6],[7,-4],[7,2],[3,-9]],hGrey,hGreyLbl,hLead,hLeadLbl,[[3,-12]]);
tissuePanel(350,{range:iYRange,major:iYTicks,labels:iYLabels},iRed,iRedLbl,[[4,0],[0,-6],[-6,-3],[3,0],[-33,-8],[-5,-6],[0,0],[3,-5],[-6,-5],[3,3],[-6,-6],[4,2],[4,3],[0,0],[-8,-2],[-43,-25],[-45,-17],[5,3],[6,-1],[6,0],[6,0],[5,3],[3,4]],
  iBlue,iBlueLbl,[[-2,-5],[0,0],[0,0],[-10,-17],[0,0],[0,0],[8,-1],[0,0],[6,4],[-3,5],[-4,5],[-5,5],[-6,-10],[-13,-14],[-20,-22],[-22,-38],[-24,-12],[0,0],[-3,5],[0,0],[-5,5],[0,0],[-28,-6],[-14,-10],[-18,-7],[0,0],[-7,5],[-26,-16],[-22,2],[-28,-23],[-30,-13],[3,5]],
  iGrey,iGreyLbl,iLead,iLeadLbl,[]);
tissuePanel(525,{range:jYRange,major:jYTicks,labels:jYLabels},jRed,jRedLbl,[[-6,2],[0,-7]],jBlue,jBlueLbl,[[6,-4],[-8,4]],jGrey,jGreyLbl,jLead,jLeadLbl,[]);
tissuePanel(700,{range:kYRange,major:kYTicks,labels:kYLabels},kRed,kRedLbl,[[0,-6],[-7,-5],[0,-5],[-11,-4],[0,-5],[0,0],[-11,-8],[-8,-1],[-6,4],[-3,5],[0,0],[-10,-4],[-8,8]],
  kBlue,kBlueLbl,[[-6,3],[-6,-2],[0,0],[-1,-9],[4,4],[-1,-6],[0,-8],[0,0],[0,4],[0,-14],[0,5],[2,-6],[2,-7],[0,5],[3,-6],[0,5],[0,5],[0,0],[-4,-9],[0,6],[-2,-15],[0,0],[2,8]],
  kGrey,kGreyLbl,kLead,kLeadLbl,[]);
tissuePanel(875,{range:lYRange,major:lYTicks,labels:lYLabels},lRed,lRedLbl,[[-5,3],[-5,3],[4,0],[0,0],[4,0],[0,0],[-25,-4],[-5,-3],[0,0],[4,0],[4,0],[4,0],[4,0],[4,0],[0,0],[4,0],[4,0]],
  lBlue,lBlueLbl,[[-10,-4],[-58,-20],[-7,-5],[-52,-2],[-42,-5],[-45,0],[-37,0],[3,3],[0,0],[-28,-12],[0,0],[-20,-10],[-30,-16],[-19,-18],[0,0],[-30,-23],[-3,-6],[-5,-7],[4,3],[3,4],[3,4],[0,0],[-15,-3],[-8,-14],[-42,-8],[0,0]],
  lGrey,lGreyLbl,lLead,lLeadLbl,[]);

// titles
const bottomTitleY=[188.3,185,185,190,185,185];
const bottomTitleX=[26.7,26.7,26.7,28.3,28.3,26.7];
columns.forEach((col,k)=>{txt(k*175+bottomTitleX[k],bottomTitleY[k],'<b>'+col.snpB+' and expression of '+col.gene+'</b> (by tissue)',4.4);});

// legends
legend(0,[228.5,236.8,245.2],true);
legend(175,[229,237.3,245.6],true);
legend(350,[231.7,240],false);
legend(525,[229,237.3,245.6],true);
legend(700,[228.5,236.8,245.2],true);
legend(875,[231.7,240.3],false);

// insets
inset(88,192,63,39,gInsetRange,gInsetTicks,gInsetLabels,gFE,gRE,gFEp,gREp);
inset(175+88,192,64,38,hInsetRange,hInsetTicks,hInsetLabels,hFE,hRE,hFEp,hREp);
inset(350+74,192,63,37,iInsetRange,iInsetTicks,iInsetLabels,iFE,iRE,iFEp,iREp);
inset(525+87,196,63,36,jInsetRange,jInsetTicks,jInsetLabels,jFE,jRE,jFEp,jREp);
inset(700+92,192,62,36,kInsetRange,kInsetTicks,kInsetLabels,kFE,kRE,kFEp,kREp);
inset(875+75,192,62,37,lInsetRange,lInsetTicks,lInsetLabels,lFE,lRE,lFEp,lREp);
</script></body></html>
